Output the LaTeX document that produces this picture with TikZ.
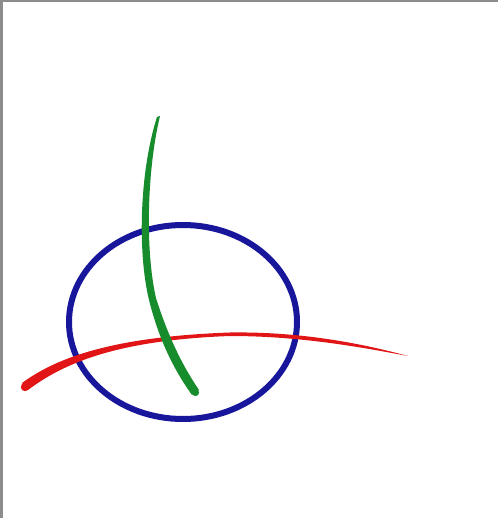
\documentclass[tikz,border=0pt]{standalone}
\usetikzlibrary{calc}
\definecolor{frame}{RGB}{140,140,140}
\definecolor{ringblue}{RGB}{24,22,155}
\definecolor{inkred}{RGB}{225,20,22}
\definecolor{inkgreen}{RGB}{22,140,45}
\tikzset{
  ring/.style={draw=ringblue,line width=6pt},
  redstroke/.style={fill=inkred},
  greenstroke/.style={fill=inkgreen},
  edge frame/.style={fill=frame},
}

\begin{document}
\begin{tikzpicture}[x=1pt,y=-1pt]
  \useasboundingbox (0,0) rectangle (498,518);
  \fill[white] (0,0) rectangle (498,518);
  % frame of the scan
  \fill[edge frame] (0,0) rectangle (498,2);
  \fill[edge frame] (0,0) rectangle (3,518);
  % blue ring
  \draw[ring] (183,322) ellipse [x radius=114, y radius=97];
  % red stroke, thick at the left, thin at the right
  \fill[redstroke] (22,383) .. controls (60,355) and (120,336.5) .. (230,332.5)
    .. controls (300,331.5) and (360,343) .. (408,356)
    .. controls (360,347) and (300,336) .. (230,336)
    .. controls (120,340) and (65,362) .. (28,390) -- cycle;
  \fill[redstroke] (25,387) circle (4.2);
  % green stroke, pointed at the top
  \fill[greenstroke] (157,117) .. controls (140,170) and (137,250) .. (149,300)
    .. controls (159,340) and (174,370) .. (192,395)
    -- (199,390) .. controls (182,365) and (168,336) .. (156,298)
    .. controls (145,250) and (147,170) .. (160,116) -- cycle;
  \fill[greenstroke] (195.5,392.5) circle (3.6);
\end{tikzpicture}
\end{document}
